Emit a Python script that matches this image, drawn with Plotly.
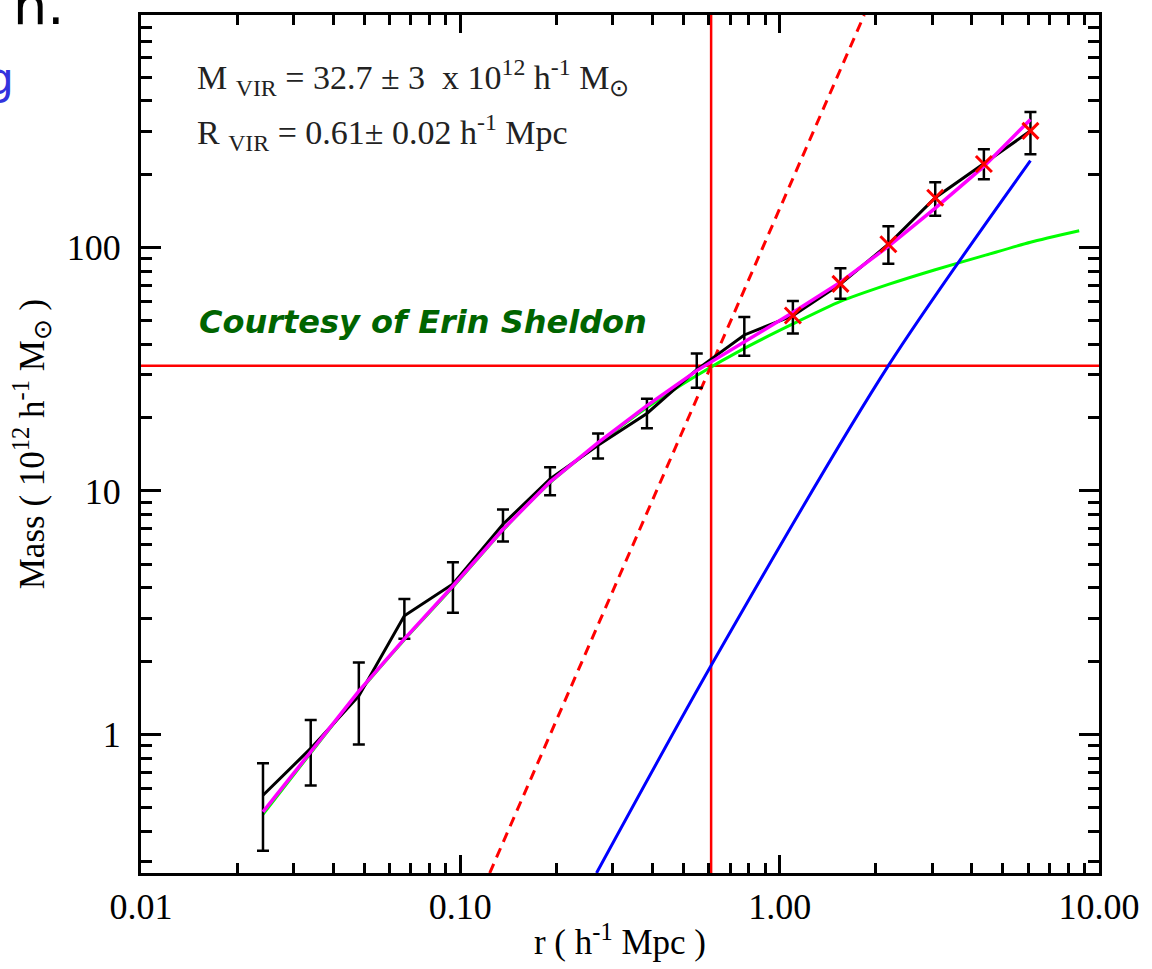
import plotly.graph_objects as go

# Radial bins (h^-1 Mpc) and measured enclosed mass (10^12 h^-1 Msun)
r_bins = [0.0241, 0.0340, 0.0481, 0.0668, 0.0948, 0.136, 0.191, 0.270, 0.384,
          0.550, 0.775, 1.10, 1.55, 2.19, 3.07, 4.36, 6.10]
mass = [0.563, 0.877, 1.44, 3.07, 4.15, 7.3, 11.2, 15.4, 20.8,
        31.5, 43.7, 52.5, 70.8, 103, 160, 220, 301]
mass_hi = [0.763, 1.148, 1.976, 3.6, 5.1, 8.4, 12.5, 17.2, 23.9,
           36.7, 51.8, 60.2, 82.2, 122, 185, 253, 360]
mass_lo = [0.333, 0.617, 0.91, 2.47, 3.16, 6.2, 9.6, 13.6, 18.1,
           26.5, 35.9, 44.3, 61.5, 85.6, 135, 190.6, 241.5]
first_outer_bin = 11  # bins from here on are marked with a red cross

# Total model fit (magenta)
fit_total = [0.481, 0.852, 1.506, 2.47, 4.07, 6.96, 10.9, 15.8, 22.4,
             31.2, 41.0, 54.0, 72.0, 101, 145, 215, 335]

# Halo (NFW) term (green)
r_halo = r_bins + [8.67]
fit_halo = [0.47, 0.84, 1.49, 2.45, 4.03, 6.9, 10.8, 15.6, 22.0,
            29.8, 38.5, 48.5, 60.0, 70.5, 81.0, 92.5, 105, 117]

# Large-scale term (blue)
r_large = [0.267, 0.61, 2.19, 6.10]
fit_large = [0.27, 1.92, 32.7, 227]

# Mean-density line (red dashed)
r_dense = [0.1236, 1.84]
m_dense = [0.27, 900]

# Virial values
M_VIR = 32.7
R_VIR = 0.61

x_ticks = [0.01, 0.1, 1, 10]
x_ticktext = ["0.01", "0.10", "1.00", "10.00"]
y_ticks = [1, 10, 100]
y_ticktext = ["1", "10", "100"]

minor_x = [k * 10.0 ** e for e in range(-2, 1) for k in range(2, 10)]
minor_y = [k * 10.0 ** e for e in range(-1, 3) for k in range(2, 10)]

SERIF = "Liberation Serif, Times New Roman, serif"

fig = go.Figure()

fig.add_trace(go.Scatter(x=r_halo, y=fit_halo, mode="lines",
                         line=dict(color="#00ff00", width=3, shape="spline",
                                   smoothing=0.6),
                         showlegend=False))
fig.add_trace(go.Scatter(x=r_large, y=fit_large, mode="lines",
                         line=dict(color="#0000ff", width=3, shape="spline",
                                   smoothing=0.8),
                         showlegend=False))
fig.add_trace(go.Scatter(x=r_dense, y=m_dense, mode="lines",
                         line=dict(color="#ff0000", width=3, dash="10px,7px"),
                         showlegend=False))

err_plus = [h - m for h, m in zip(mass_hi, mass)]
err_minus = [m - l for m, l in zip(mass, mass_lo)]
fig.add_trace(go.Scatter(
    x=r_bins, y=mass, mode="lines",
    line=dict(color="black", width=3),
    error_y=dict(type="data", symmetric=False, array=err_plus,
                 arrayminus=err_minus, color="black", thickness=2.5, width=6),
    showlegend=False))

fig.add_trace(go.Scatter(x=r_bins, y=fit_total, mode="lines",
                         line=dict(color="#ff00ff", width=3.5), showlegend=False))

fig.add_trace(go.Scatter(
    x=r_bins[first_outer_bin:], y=mass[first_outer_bin:], mode="markers",
    marker=dict(symbol="x-thin", size=16, line=dict(color="#ff0000", width=3)),
    showlegend=False))

fig.add_vline(x=R_VIR, line=dict(color="#ff0000", width=2.5), layer="below")
fig.add_hline(y=M_VIR, line=dict(color="#ff0000", width=2.5), layer="below")

axis_common = dict(
    showline=True, linecolor="black", linewidth=3, mirror="allticks",
    ticks="inside", tickcolor="black", tickwidth=2.5, showgrid=False,
    zeroline=False, tickfont=dict(family=SERIF, size=36, color="black"),
)

fig.update_xaxes(
    type="log", range=[-2, 1], tickvals=x_ticks, ticktext=x_ticktext,
    ticklen=18,
    minor=dict(tickvals=minor_x, ticks="inside", ticklen=10, tickwidth=2.5,
               tickcolor="black", showgrid=False),
    title=dict(text="r ( h<sup>-1</sup> Mpc )",
               font=dict(family=SERIF, size=35, color="black"), standoff=4),
    **axis_common)

fig.update_yaxes(
    type="log", range=[-0.5686, 2.9542], tickvals=y_ticks, ticktext=y_ticktext,
    ticklen=20, ticklabelstandoff=10,
    minor=dict(tickvals=minor_y, ticks="inside", ticklen=11, tickwidth=2.5,
               tickcolor="black", showgrid=False),
    title=dict(text="Mass ( 10<sup>12</sup> h<sup>-1</sup> M<sub>⊙</sub> )",
               font=dict(family=SERIF, size=35, color="black"), standoff=12),
    **axis_common)

fig.add_annotation(
    x=0.056, y=0.927, xref="paper", yref="paper", xanchor="left", yanchor="middle",
    text="M <sub>VIR</sub> = 32.7 ± 3  x 10<sup>12</sup> h<sup>-1</sup> M<sub>⊙</sub>",
    showarrow=False, font=dict(family=SERIF, size=34, color="#222222"))
fig.add_annotation(
    x=0.056, y=0.863, xref="paper", yref="paper", xanchor="left", yanchor="middle",
    text="R <sub>VIR</sub> = 0.61± 0.02 h<sup>-1</sup> Mpc",
    showarrow=False, font=dict(family=SERIF, size=34, color="#222222"))

fig.add_annotation(
    x=0.058, y=0.642, xref="paper", yref="paper", xanchor="left", yanchor="middle",
    text="<b><i>Courtesy of Erin Sheldon</i></b>",
    showarrow=False, font=dict(family="DejaVu Sans, Verdana, sans-serif", size=32,
                               color="#006400"))

# fragments of surrounding slide text
fig.add_annotation(
    x=(10 - 141) / 964, y=(873 - 24) / 861, xref="paper", yref="paper",
    xanchor="left", yanchor="bottom", yshift=-12,
    text="n.", showarrow=False,
    font=dict(family="DejaVu Sans, sans-serif", size=54, color="black"))
fig.add_annotation(
    x=(15 - 141) / 964, y=(873 - 76) / 861, xref="paper", yref="paper",
    xanchor="right", yanchor="middle",
    text="g", showarrow=False,
    font=dict(family="DejaVu Sans, sans-serif", size=44, color="#3333dd"))

fig.update_layout(
    width=1152, height=969,
    margin=dict(l=141, r=47, t=12, b=96),
    paper_bgcolor="white", plot_bgcolor="white",
    showlegend=False,
)

fig.write_html("out.html")
